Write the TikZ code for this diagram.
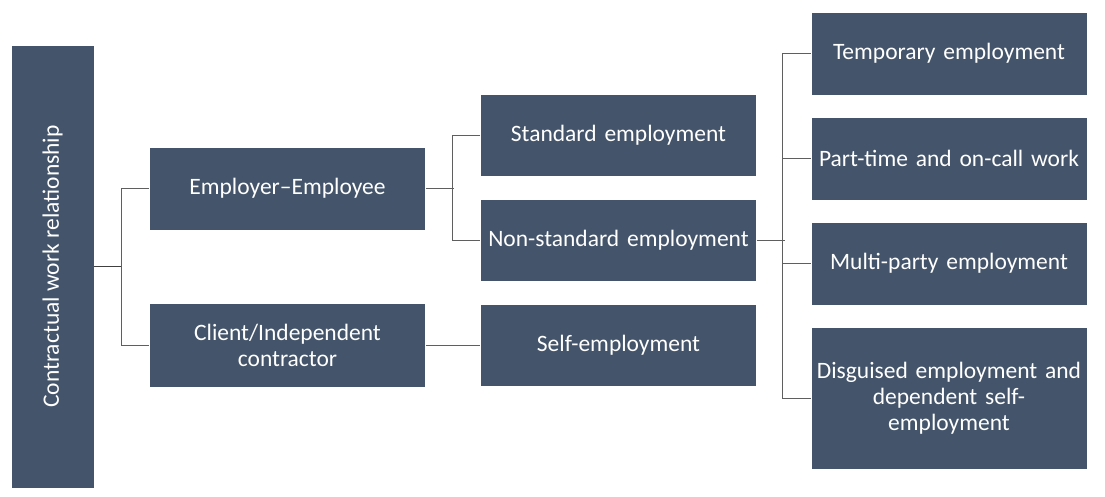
\documentclass[tikz,border=0pt]{standalone}
\usepackage{fontspec}
\setmainfont{Carlito}
\definecolor{boxfill}{HTML}{44546A}
\definecolor{linec}{HTML}{5F5F5F}
\begin{document}
\begin{tikzpicture}[x=1pt,y=-1pt,
  box/.style={draw=white,line width=0.6pt,fill=boxfill,text=white,font=\fontsize{23.5}{26}\selectfont,
    align=center,inner sep=2pt,minimum width=275pt,minimum height=83pt,text width=272pt},
  conn/.style={draw=linec,line width=1pt}]
\useasboundingbox (0,0) rectangle (1105,496);
\fill[white] (0,0) rectangle (1105,496);
\node[box,minimum width=83pt,text width=78pt,minimum height=443pt] (root) at (52.5,266.5) {};
\node[rotate=90,text=white,font=\fontsize{23.5}{26}\selectfont] (roottext) at (root.center) {Contractual work relationship};
\node[box] (ee) at (287.5,188.5) {Employer–Employee};
\node[box,minimum height=84pt] (ci) at (287.5,345) {Client/Independent\\contractor};
\node[box,minimum height=82pt] (std) at (618.5,135) {Standard employment};
\node[box,minimum height=82pt] (ns) at (618.5,240) {Non-standard employment};
\node[box,minimum height=82pt] (self) at (618.5,345) {Self-employment};
\node[box,minimum width=274pt] (temp) at (949,53.5) {Temporary employment};
\node[box,minimum width=274pt] (part) at (949,158.5) {Part-time and on-call work};
\node[box,minimum width=274pt] (multi) at (949,263.5) {Multi-party employment};
\node[box,minimum width=274pt,minimum height=142pt] (disg) at (949,398) {Disguised employment and\\dependent self-\\employment};
% connectors
\draw[conn,line width=1.6pt,draw=black!75] (root.east) -- ++(28,0) coordinate (j1);
\draw[conn] (ee.west) -- ++(-28,0) |- (ci.west);
\draw[conn] (ee.east) -- ++(28,0) coordinate (j2);
\draw[conn] (std.west) -- ++(-28,0) |- (ns.west);
\draw[conn] (ci.east) -- (self.west);
\draw[conn] (ns.east) -- ++(28,0) coordinate (j3);
\draw[conn] (temp.west) -- ++(-28,0) |- (disg.west);
\draw[conn] (part.west) -- ++(-28,0);
\draw[conn] (multi.west) -- ++(-28,0);
\end{tikzpicture}
\end{document}
